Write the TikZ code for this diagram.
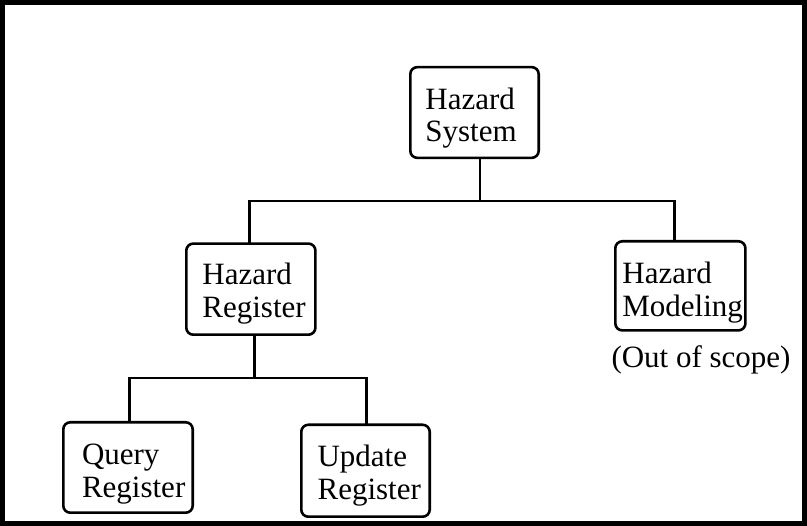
\documentclass[tikz,border=0pt]{standalone}
\usepackage{fontspec}
\setmainfont{Liberation Serif}
\begin{document}
\begin{tikzpicture}[x=1pt,y=-1pt,
  box/.style={draw, line width=2.6pt, rounded corners=7pt, inner sep=0pt, outer sep=0pt},
  lbl/.style={inner sep=0pt, outer sep=0pt, anchor=base west, font=\fontsize{31}{32.5}\selectfont},
  conn/.style={line width=2.6pt, line join=miter},
  frame/.style={line width=5pt}]
\useasboundingbox (0,0) rectangle (807,526);
\draw[frame] (2.5,2.5) rectangle (804.5,523.5);

% boxes
\node[box, minimum width=128.4pt, minimum height=90.7pt] (sys) at (474.5,112.5) {};
\node[box, minimum width=129.1pt, minimum height=91.1pt] (reg) at (250.85,289.15) {};
\node[box, minimum width=130.1pt, minimum height=89.1pt] (mod) at (680.35,285.85) {};
\node[box, minimum width=129.4pt, minimum height=90.4pt] (query) at (128,467.5) {};
\node[box, minimum width=128.4pt, minimum height=91.9pt] (update) at (365.5,470.75) {};

% texts
\node[lbl] (tsys) at (425.4,109.3) {\begin{tabular}[t]{@{}l@{}}Hazard\\System\end{tabular}};
\node[lbl] (treg) at (202.4,285) {\begin{tabular}[t]{@{}l@{}}Hazard\\Register\end{tabular}};
\node[lbl] (tmod) at (622.4,284) {\begin{tabular}[t]{@{}l@{}}Hazard\\Modeling\end{tabular}};
\node[lbl] (tquery) at (82,465) {\begin{tabular}[t]{@{}l@{}}Query\\Register\end{tabular}};
\node[lbl] (tupdate) at (317.6,467) {\begin{tabular}[t]{@{}l@{}}Update\\Register\end{tabular}};
\node[lbl] (tscope) at (611.5,368) {(Out of scope)};

% connectors
\coordinate (j1) at (480,201);
\coordinate (h1l) at (249.5,201);
\coordinate (h1r) at (674.5,201);
\coordinate (j2) at (254.7,378);
\coordinate (h2l) at (129.3,378);
\coordinate (h2r) at (366.7,378);

\draw[conn] (sys.south -| j1) -- (j1);
\draw[conn] (h1l |- reg.north) -- (h1l) -- (h1r) -- (h1r |- mod.north);
\draw[conn] (reg.south -| j2) -- (j2);
\draw[conn] (h2l |- query.north) -- (h2l) -- (h2r) -- (h2r |- update.north);
\end{tikzpicture}
\end{document}
